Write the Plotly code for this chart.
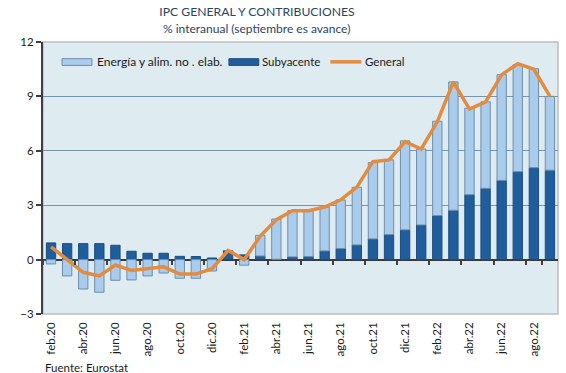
import plotly.graph_objects as go

months = ["feb.20", "mar.20", "abr.20", "may.20", "jun.20", "jul.20", "ago.20", "sep.20",
          "oct.20", "nov.20", "dic.20", "ene.21", "feb.21", "mar.21", "abr.21", "may.21",
          "jun.21", "jul.21", "ago.21", "sep.21", "oct.21", "nov.21", "dic.21", "ene.22",
          "feb.22", "mar.22", "abr.22", "may.22", "jun.22", "jul.22", "ago.22", "sep.22"]

subyacente = [0.92, 0.88, 0.88, 0.88, 0.79, 0.46, 0.35, 0.35, 0.18, 0.17, 0.09, 0.50,
              0.26, 0.20, 0.02, 0.15, 0.17, 0.48, 0.61, 0.81, 1.14, 1.38, 1.64, 1.91,
              2.43, 2.72, 3.58, 3.93, 4.37, 4.85, 5.07, 4.93]

energia = [-0.24, -0.90, -1.62, -1.80, -1.14, -1.12, -0.90, -0.74, -1.03, -1.03, -0.63, 0.0,
           -0.31, 1.14, 2.22, 2.55, 2.53, 2.41, 2.68, 3.18, 4.21, 4.12, 4.91, 4.19,
           5.20, 7.08, 4.77, 4.77, 5.83, 5.90, 5.46, 4.07]

general = [0.7, 0.0, -0.7, -0.9, -0.3, -0.6, -0.5, -0.4, -0.8, -0.8, -0.5, 0.5,
           0.0, 1.3, 2.2, 2.7, 2.7, 2.9, 3.3, 4.0, 5.4, 5.5, 6.5, 6.1,
           7.6, 9.8, 8.3, 8.7, 10.2, 10.8, 10.5, 9.0]

label_months = months[::2]
yticks = [-3, 0, 3, 6, 9, 12]

FONT = "Lato"
TXT = "#1a1a1a"
LIGHT = "#A9CBEC"
DARK = "#1F5D9C"
ORANGE = "#E38B3E"

fig = go.Figure()
fig.add_trace(go.Bar(x=months, y=subyacente, name="Subyacente",
                     marker=dict(color=DARK, line=dict(color="#1A4E80", width=1)),
                     showlegend=False, hoverinfo="skip"))
fig.add_trace(go.Bar(x=months, y=energia, name="Energía y alim. no . elab.",
                     marker=dict(color=LIGHT, line=dict(color="#6E8FAA", width=1)),
                     showlegend=False, hoverinfo="skip"))
fig.add_trace(go.Scatter(x=months, y=general, name="General", mode="lines",
                         line=dict(color=ORANGE, width=3.5), xaxis="x2",
                         showlegend=False, hoverinfo="skip"))

fig.update_layout(
    width=566, height=373,
    margin=dict(l=43, r=8, t=42, b=59, autoexpand=False),
    paper_bgcolor="white",
    plot_bgcolor="#DEEBF0",
    barmode="relative",
    bargap=0.42,
    font=dict(family=FONT, size=11, color=TXT),
    title=dict(text="IPC GENERAL Y CONTRIBUCIONES", x=0.454, xanchor="center",
               xref="container", y=0.968, yanchor="middle", yref="container",
               font=dict(family=FONT, size=12.2, color="#2A4565")),
    xaxis=dict(type="category", categoryorder="array", categoryarray=months,
               range=[-0.5, 31.5], tickmode="array", tickvals=label_months,
               ticktext=label_months, tickangle=-90, ticks="", showgrid=False,
               showline=False, zeroline=False, tickfont=dict(size=11.5, color=TXT),
               ticklabelstandoff=5, automargin=False),
    xaxis2=dict(type="category", categoryorder="array", categoryarray=months,
                matches="x", overlaying="x", anchor="free", position=0.2,
                side="bottom", tickmode="array", tickvals=label_months,
                tickson="boundaries", ticks="outside", ticklen=4, tickwidth=1.5,
                tickcolor="#404040", showticklabels=False, showgrid=False,
                showline=False, zeroline=False, automargin=False),
    yaxis=dict(range=[-3, 12], tickmode="array", tickvals=yticks,
               showgrid=True, gridcolor="#7893AE", gridwidth=1,
               zeroline=True, zerolinecolor="#3a3a3a", zerolinewidth=1.5,
               showline=True, linecolor="#404040", linewidth=2,
               ticks="outside", ticklen=5, tickcolor="#404040", tickwidth=1.5,
               tickfont=dict(size=11.5, color=TXT), automargin=False),
)

# plot frame (top/right/bottom)
fig.add_shape(type="rect", xref="paper", yref="paper", x0=0, x1=1, y0=0, y1=1,
              line=dict(color="#BFBFBF", width=1.5), fillcolor="rgba(0,0,0,0)", layer="below")

# subtitle
fig.add_annotation(text="% interanual (septiembre es avance)", xref="paper", yref="paper",
                   x=0.4155, y=1.048, showarrow=False, xanchor="center", yanchor="middle",
                   font=dict(family=FONT, size=12, color="#2A4565"))

# legend (custom)
fig.add_shape(type="rect", xref="paper", yref="paper", x0=0.0369, x1=0.0951, y0=0.914, y1=0.9386,
              fillcolor=LIGHT, line=dict(color="#6E8FAA", width=1))
fig.add_annotation(text="Energía y alim. no . elab.", xref="paper", yref="paper",
                   x=0.101, y=0.927, showarrow=False, xanchor="left", yanchor="middle",
                   font=dict(size=12, color=TXT))
fig.add_shape(type="rect", xref="paper", yref="paper", x0=0.361, x1=0.419, y0=0.914, y1=0.9386,
              fillcolor=DARK, line=dict(color="#1A4E80", width=1))
fig.add_annotation(text="Subyacente", xref="paper", yref="paper",
                   x=0.421, y=0.927, showarrow=False, xanchor="left", yanchor="middle",
                   font=dict(size=11.5, color=TXT))
fig.add_shape(type="line", xref="paper", yref="paper", x0=0.558, x1=0.618, y0=0.927, y1=0.927,
              line=dict(color=ORANGE, width=3.5))
fig.add_annotation(text="General", xref="paper", yref="paper",
                   x=0.621, y=0.927, showarrow=False, xanchor="left", yanchor="middle",
                   font=dict(size=11.5, color=TXT))

# source
fig.add_annotation(text="Fuente: Eurostat", xref="paper", yref="paper",
                   x=0.0, y=-0.195, showarrow=False, xanchor="left", yanchor="middle",
                   font=dict(size=11.5, color=TXT))

fig.write_html("out.html", config={"displayModeBar": False},
               post_script="document.body.style.margin='0';document.body.style.overflow='hidden';")
